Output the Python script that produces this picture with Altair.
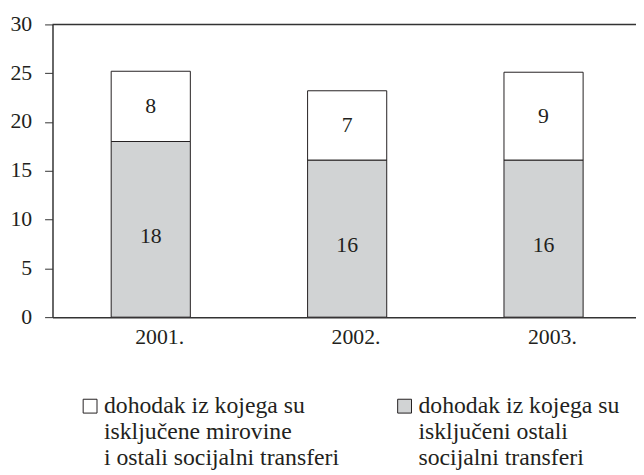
import altair as alt
import pandas as pd

years = ["2001.", "2002.", "2003."]
bottom_values = [18.0, 16.1, 16.1]
top_values = [7.2, 7.1, 9.0]
bottom_labels = ["18", "16", "16"]
top_labels = ["8", "7", "9"]
series_top = "dohodak iz kojega su\nisključene mirovine\ni ostali socijalni transferi"
series_bottom = "dohodak iz kojega su\nisključeni ostali\nsocijalni transferi"
y_ticks = [0, 5, 10, 15, 20, 25, 30]

rows = []
for i, yr in enumerate(years):
    b = bottom_values[i]
    t = top_values[i]
    rows.append({"year": yr, "series": series_bottom, "start": 0.0, "end": b,
                 "label": bottom_labels[i], "pos": "bottom"})
    rows.append({"year": yr, "series": series_top, "start": b, "end": b + t,
                 "label": top_labels[i], "pos": "top"})
df = pd.DataFrame(rows)

FONT = "Liberation Serif"
INK = "#231f20"
GRAY = "#d1d3d4"

x_scale = alt.Scale(paddingInner=0.597, paddingOuter=0.284, align=0.526)
y_scale = alt.Scale(domain=[0, 30], nice=False)

bars = alt.Chart(df).mark_bar(stroke=INK, strokeWidth=1).encode(
    x=alt.X("year:N", sort=years, title=None, scale=x_scale),
    y=alt.Y("start:Q", scale=y_scale, title=None, axis=alt.Axis(values=y_ticks)),
    y2="end:Q",
    fill=alt.Fill("series:N",
                  scale=alt.Scale(domain=[series_top, series_bottom], range=["#ffffff", GRAY]),
                  legend=alt.Legend(title=None, orient="none", legendX=26, legendY=374,
                                    direction="horizontal", columns=2, columnPadding=54,
                                    symbolType="square", symbolSize=196,
                                    symbolStrokeColor=INK, symbolStrokeWidth=1,
                                    labelFontSize=24, labelColor=INK,
                                    labelOffset=2, labelLimit=400, padding=0,
                                    labelExpr="split(datum.label, '\\n')")),
)

texts = alt.Chart(df).transform_calculate(
    mid="(datum.start + datum.end) / 2 + (datum.pos == 'bottom' ? -0.7 : 0)"
).mark_text(font=FONT, fontSize=22, color=INK, baseline="middle").encode(
    x=alt.X("year:N", sort=years, title=None),
    y=alt.Y("mid:Q", scale=y_scale, title=None),
    text="label:N",
)

top_line = alt.Chart(pd.DataFrame({"v": [30]})).mark_rule(
    color="#333333", strokeWidth=1.5
).encode(y=alt.Y("v:Q", scale=y_scale, title=None))

chart = alt.layer(bars, texts, top_line).properties(
    width=590, height=296,
    autosize=alt.AutoSizeParams(type="none"),
    padding={"left": 45, "top": 14, "right": 0, "bottom": 157},
).configure(background="white", font=FONT).configure_view(stroke=None).configure_axis(
    labelFont=FONT, labelFontSize=22, labelColor=INK, grid=False,
    domainColor="#333333", domainWidth=1.5, tickColor="#333333"
).configure_axisX(
    labelAngle=0, ticks=False, labelPadding=10, labelOffset=9
).configure_axisY(
    tickSize=8, labelPadding=13, labelOffset=-1
).configure_legend(labelFont=FONT)

chart.save("out.html", embed_options={"renderer": "svg", "actions": False})
